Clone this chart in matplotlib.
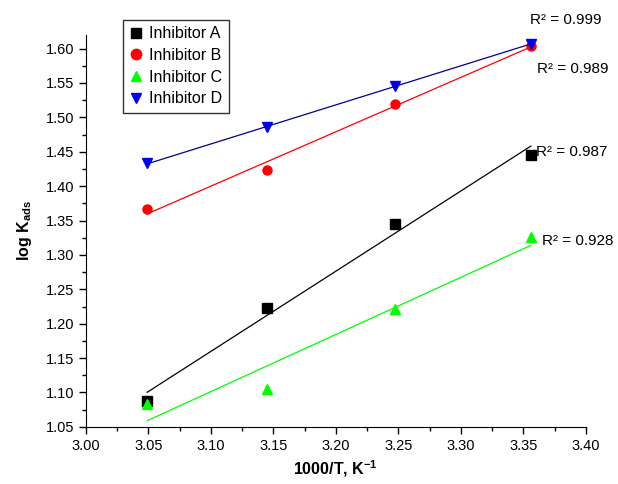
import numpy as np
import matplotlib
matplotlib.use("Agg")
import matplotlib.pyplot as plt
from matplotlib.ticker import MultipleLocator

plt.rcParams['font.family'] = ['Liberation Sans', 'DejaVu Sans']
plt.rcParams['mathtext.fontset'] = 'custom'
plt.rcParams['mathtext.rm'] = 'Liberation Sans:bold'
plt.rcParams['mathtext.it'] = 'Liberation Sans:bold'
plt.rcParams['mathtext.bf'] = 'Liberation Sans:bold'

# 1000/T values
inv_T = [3.049, 3.145, 3.247, 3.356]

# log Kads per inhibitor
inh_a = [1.088, 1.223, 1.345, 1.446]
inh_b = [1.367, 1.423, 1.520, 1.604]
inh_c = [1.083, 1.105, 1.221, 1.326]
inh_d = [1.433, 1.486, 1.545, 1.607]

labels = ["Inhibitor A", "Inhibitor B", "Inhibitor C", "Inhibitor D"]
r2_text = ["R\u00b2 = 0.987", "R\u00b2 = 0.989", "R\u00b2 = 0.928", "R\u00b2 = 0.999"]
r2_pos = [(3.360, 1.449), (3.361, 1.570), (3.365, 1.320), (3.355, 1.641)]

fig = plt.figure(figsize=(6.18, 4.84), dpi=100)
ax = fig.add_axes([0.139, 0.118, 0.809, 0.810])

series = [inh_a, inh_b, inh_c, inh_d]
markers = ['s', 'o', '^', 'v']
mcolors = ['black', 'red', '#00ff00', 'blue']
lcolors = ['black', 'red', '#00ff00', '#000090']

x = np.array(inv_T)
for ys, m, mc, lc, lab in zip(series, markers, mcolors, lcolors, labels):
    ax.plot(x, ys, linestyle='none', marker=m, color=mc, markersize=6.5, label=lab)
    k, b = np.polyfit(x, ys, 1)
    ax.plot(x[[0, -1]], k * x[[0, -1]] + b, color=lc, lw=0.9)

for t, (px, py) in zip(r2_text, r2_pos):
    ax.text(px, py, t, fontsize=11, ha='left', va='center', clip_on=False)

ax.set_xlim(3.0, 3.4)
ax.set_ylim(1.05, 1.62)
ax.xaxis.set_major_locator(MultipleLocator(0.05))
ax.xaxis.set_minor_locator(MultipleLocator(0.025))
ax.yaxis.set_major_locator(MultipleLocator(0.05))
ax.yaxis.set_minor_locator(MultipleLocator(0.025))
ax.xaxis.set_major_formatter(plt.FormatStrFormatter('%.2f'))
ax.yaxis.set_major_formatter(plt.FormatStrFormatter('%.2f'))
ax.tick_params(which='major', direction='out', length=5, width=1, labelsize=10.5)
ax.tick_params(which='minor', direction='out', length=3, width=1)

ax.spines['top'].set_visible(False)
ax.spines['right'].set_visible(False)

ax.set_xlabel("1000/T, K$^{-1}$", fontsize=11.5, fontweight='bold', labelpad=4)
ax.set_ylabel("log K$_{ads}$", fontsize=11.5, fontweight='bold', labelpad=8)

leg = ax.legend(loc='upper left', bbox_to_anchor=(0.074, 1.038), fontsize=11.5,
                frameon=True, fancybox=False, handletextpad=0.35, borderpad=0.4,
                labelspacing=0.42, handlelength=0.9, borderaxespad=0, markerscale=1.15)
leg.get_frame().set_edgecolor('black')
leg.get_frame().set_linewidth(1)

fig.savefig("out.png", dpi=100)
